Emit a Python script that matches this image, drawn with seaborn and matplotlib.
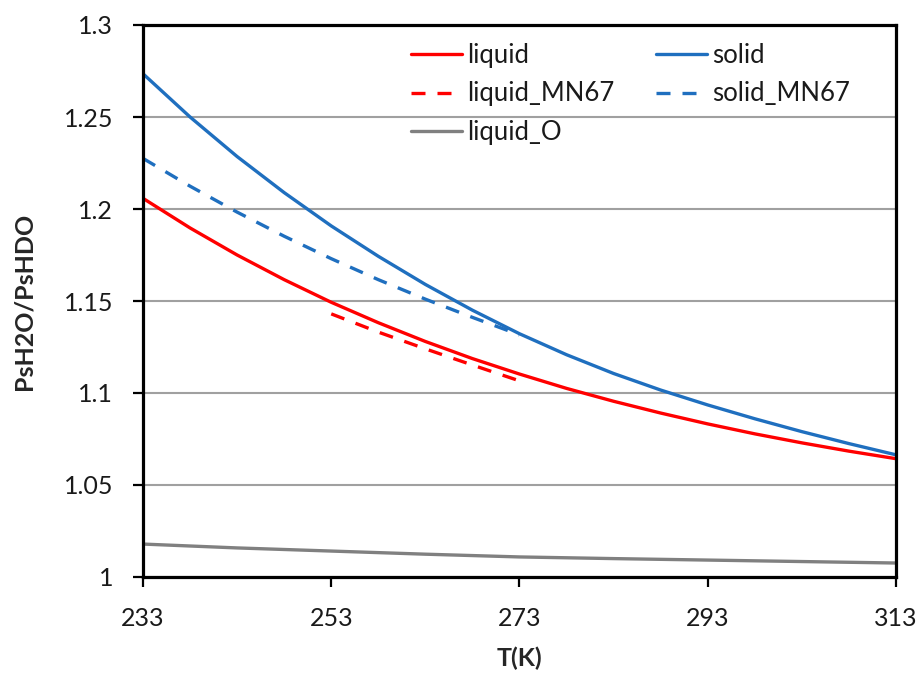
import matplotlib
matplotlib.use("Agg")
import matplotlib.pyplot as plt
import seaborn as sns

# Data
T_full = [233, 238, 243, 248, 253, 258, 263, 268, 273, 278, 283, 288, 293, 298, 303, 308, 313]
liquid = [1.2058, 1.1897, 1.1750, 1.1616, 1.1493, 1.1382, 1.1280, 1.1187, 1.1103, 1.1025,
          1.0955, 1.0891, 1.0832, 1.0778, 1.0729, 1.0684, 1.0643]
solid = [1.2735, 1.2500, 1.2285, 1.2089, 1.1908, 1.1743, 1.1590, 1.1450, 1.1322, 1.1208,
         1.1106, 1.1016, 1.0935, 1.0860, 1.0790, 1.0725, 1.0664]
T_solid_mn67 = [233, 238, 243, 248, 253, 258, 263, 268, 273]
solid_mn67 = [1.2275, 1.2124, 1.1983, 1.1852, 1.1730, 1.1616, 1.1510, 1.1411, 1.1316]
T_liquid_mn67 = [253, 258, 263, 268, 273]
liquid_mn67 = [1.1430, 1.1331, 1.1240, 1.1152, 1.1066]
T_o = [233, 243, 253, 263, 273, 283, 293, 303, 313]
liquid_o = [1.0179, 1.0158, 1.0141, 1.0124, 1.0109, 1.0100, 1.0092, 1.0084, 1.0076]

xticks = [233, 253, 273, 293, 313]
yticks = [1.0, 1.05, 1.1, 1.15, 1.2, 1.25, 1.3]
ytick_labels = ["1", "1.05", "1.1", "1.15", "1.2", "1.25", "1.3"]

sns.set_style("white")
plt.rcParams["font.family"] = ["Lato", "DejaVu Sans"]

fig = plt.figure(figsize=(9.23, 6.73), dpi=100)
ax = fig.add_axes([143 / 923, 1 - 577 / 673, 753 / 923, 552 / 673])

RED = "#FF0000"
BLUE = "#1F6FBF"
GRAY = "#808080"
lw = 2.4
dash = (4.2, 3.6)

sns.lineplot(x=T_full, y=liquid, ax=ax, color=RED, lw=lw, label="liquid")
sns.lineplot(x=T_liquid_mn67, y=liquid_mn67, ax=ax, color=RED, lw=lw, label="liquid_MN67")
ax.lines[-1].set_dashes(dash)
sns.lineplot(x=T_o, y=liquid_o, ax=ax, color=GRAY, lw=lw, label="liquid_O")
sns.lineplot(x=T_full, y=solid, ax=ax, color=BLUE, lw=lw, label="solid")
sns.lineplot(x=T_solid_mn67, y=solid_mn67, ax=ax, color=BLUE, lw=lw, label="solid_MN67")
ax.lines[-1].set_dashes(dash)
for ln in ax.lines:
    ln.set_solid_joinstyle("round")

ax.set_xlim(233, 313)
ax.set_ylim(1.0, 1.3)
ax.set_xticks(xticks)
ax.set_xticklabels([str(t) for t in xticks])
ax.set_yticks(yticks)
ax.set_yticklabels(ytick_labels)
ax.yaxis.grid(True, color="#A0A0A0", lw=1.5)
ax.set_axisbelow(True)

for s in ax.spines.values():
    s.set_color("black")
    s.set_linewidth(2.3)
    s.set_visible(True)

ax.tick_params(axis="both", direction="out", length=7.5, width=1.6, color="black",
               labelsize=18, pad=14, bottom=True, left=True, labelcolor="#1a1a1a")

ax.set_xlabel("T(K)", fontsize=18, fontweight="bold", labelpad=12)
ax.set_ylabel("PsH2O/PsHDO", fontsize=18, fontweight="bold", labelpad=20)

handles, labels = ax.get_legend_handles_labels()
leg = ax.legend(handles, labels, ncol=2, loc="upper left", bbox_to_anchor=(0.335, 0.996),
                frameon=False, fontsize=18.5, handlelength=2.0, handletextpad=0.2,
                columnspacing=1.6, labelspacing=0.54, borderaxespad=0.2)
for t in leg.get_texts():
    t.set_color("#1a1a1a")

fig.savefig("out.png", dpi=100)
